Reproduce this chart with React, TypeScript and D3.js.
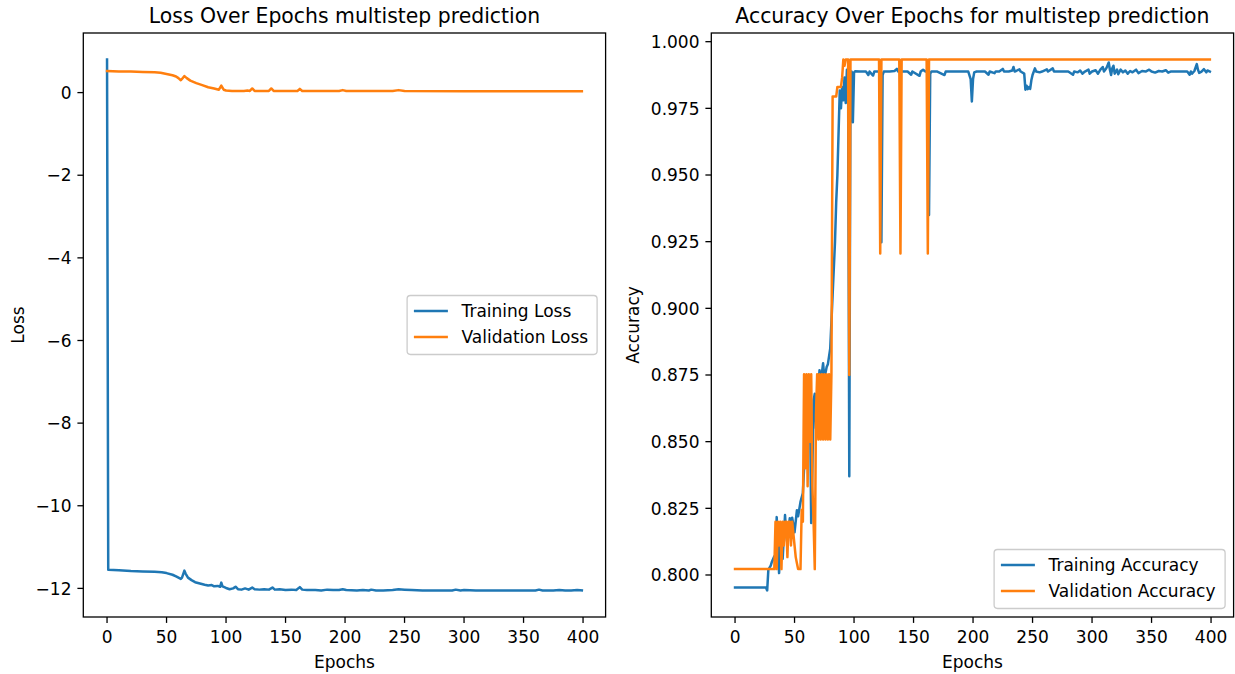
import React from 'react';
import * as d3 from 'd3';

// ---------- data (epoch, value) ----------
const trainLossEpochs = [0, 1, 10, 20, 30, 40, 46, 50, 55, 58, 62, 63, 65, 66, 68, 71, 74, 78, 82, 85, 88, 90, 93, 95, 96, 97, 100, 103, 106, 108, 110, 113, 116, 119, 122, 124, 128, 132, 136, 139, 141, 145, 150, 155, 159, 162, 164, 168, 175, 180, 185, 190, 195, 198, 201, 210, 215, 220, 222, 226, 232, 240, 245, 250, 256, 265, 275, 285, 290, 293, 297, 300, 310, 320, 330, 340, 350, 360, 363, 366, 375, 380, 385, 390, 395, 399];
const trainLossValues = [0.8, -11.55, -11.56, -11.58, -11.59, -11.6, -11.61, -11.63, -11.67, -11.71, -11.77, -11.74, -11.57, -11.64, -11.74, -11.8, -11.85, -11.88, -11.91, -11.93, -11.92, -11.95, -11.94, -11.96, -11.86, -11.95, -11.99, -12.02, -12.0, -11.96, -12.02, -12.03, -12.0, -12.03, -11.98, -12.02, -12.03, -12.02, -12.03, -11.98, -12.03, -12.02, -12.04, -12.03, -12.04, -11.97, -12.03, -12.04, -12.04, -12.05, -12.03, -12.04, -12.04, -12.02, -12.04, -12.05, -12.04, -12.05, -12.03, -12.05, -12.05, -12.04, -12.02, -12.03, -12.04, -12.05, -12.05, -12.05, -12.05, -12.03, -12.05, -12.04, -12.05, -12.05, -12.05, -12.05, -12.05, -12.05, -12.03, -12.05, -12.05, -12.04, -12.05, -12.05, -12.04, -12.05];

const valLossEpochs = [0, 10, 20, 30, 40, 45, 50, 55, 58, 60, 62, 63, 65, 67, 70, 75, 80, 85, 90, 94, 96, 98, 100, 105, 110, 115, 118, 120, 122, 124, 130, 136, 138, 140, 150, 160, 162, 164, 180, 195, 198, 201, 220, 240, 245, 250, 300, 330, 399];
const valLossValues = [0.52, 0.51, 0.51, 0.5, 0.49, 0.48, 0.45, 0.42, 0.39, 0.35, 0.3, 0.33, 0.4, 0.35, 0.29, 0.23, 0.18, 0.13, 0.1, 0.07, 0.17, 0.07, 0.05, 0.04, 0.04, 0.04, 0.05, 0.04, 0.1, 0.04, 0.04, 0.04, 0.1, 0.04, 0.04, 0.04, 0.09, 0.04, 0.04, 0.04, 0.06, 0.04, 0.04, 0.04, 0.06, 0.04, 0.03, 0.03, 0.03];

const trainAccEpochs = [0, 26, 27, 28, 30, 31, 33, 34, 35, 36, 37, 38, 39, 40, 42, 43, 44, 46, 47, 48, 50, 52, 53, 55, 57, 58, 60, 62, 63, 64, 65, 66, 67, 68, 69, 71, 72, 74, 75, 76, 77, 78, 80, 82, 84, 85, 86, 88, 89, 90, 91, 92, 93, 94, 95, 96, 97, 98, 99, 100, 101, 105, 110, 112, 113, 116, 117, 121, 122, 123, 124, 125, 130, 134, 136, 137, 145, 148, 149, 155, 156, 158, 160, 162, 163, 164, 165, 170, 176, 177, 185, 190, 196, 198, 199, 200, 201, 203, 210, 213, 214, 218, 219, 222, 225, 226, 230, 233, 234, 235, 239, 240, 243, 244, 245, 246, 247, 248, 249, 250, 252, 253, 256, 258, 262, 263, 267, 268, 280, 284, 285, 288, 290, 292, 294, 297, 298, 300, 303, 305, 307, 309, 310, 312, 314, 315, 316, 317, 318, 319, 321, 322, 324, 326, 328, 330, 332, 334, 337, 339, 342, 345, 348, 350, 353, 356, 359, 362, 364, 366, 370, 373, 380, 382, 383, 384, 386, 388, 389, 390, 392, 394, 396, 397, 399];
const trainAccValues = [0.7953, 0.7953, 0.7942, 0.802, 0.8035, 0.805, 0.807, 0.804, 0.8217, 0.812, 0.8007, 0.81, 0.813, 0.806, 0.8225, 0.815, 0.812, 0.8213, 0.818, 0.8215, 0.816, 0.8243, 0.822, 0.8274, 0.8307, 0.84, 0.852, 0.861, 0.864, 0.8195, 0.84, 0.8656, 0.868, 0.855, 0.862, 0.8768, 0.872, 0.8794, 0.874, 0.8757, 0.878, 0.879, 0.885, 0.905, 0.925, 0.9398, 0.95, 0.9817, 0.975, 0.983, 0.978, 0.9866, 0.977, 0.9895, 0.9885, 0.837, 0.988, 0.9888, 0.9698, 0.9885, 0.9889, 0.9888, 0.9888, 0.9875, 0.9888, 0.9873, 0.9888, 0.9888, 0.988, 0.9248, 0.9875, 0.9888, 0.9888, 0.989, 0.9898, 0.9888, 0.9888, 0.9876, 0.9888, 0.9872, 0.9888, 0.9895, 0.9888, 0.9888, 0.935, 0.988, 0.9888, 0.9888, 0.9875, 0.9888, 0.9888, 0.9888, 0.9888, 0.986, 0.9776, 0.986, 0.9885, 0.9888, 0.9888, 0.9876, 0.9888, 0.9882, 0.9888, 0.9888, 0.9898, 0.9888, 0.9888, 0.9892, 0.9905, 0.9888, 0.9896, 0.9888, 0.988, 0.982, 0.9835, 0.9822, 0.983, 0.9823, 0.9855, 0.9875, 0.99, 0.9888, 0.9885, 0.9888, 0.9896, 0.9888, 0.99, 0.9888, 0.9888, 0.9876, 0.9888, 0.9885, 0.9892, 0.988, 0.9888, 0.9895, 0.988, 0.9888, 0.9893, 0.988, 0.9895, 0.9905, 0.9888, 0.99, 0.9922, 0.9895, 0.9875, 0.99, 0.991, 0.988, 0.9895, 0.9878, 0.9895, 0.9885, 0.9892, 0.988, 0.989, 0.9885, 0.9895, 0.9882, 0.989, 0.9888, 0.9895, 0.9888, 0.9884, 0.989, 0.9888, 0.9893, 0.9884, 0.9888, 0.9888, 0.9888, 0.9888, 0.9876, 0.9888, 0.988, 0.989, 0.9916, 0.9895, 0.9883, 0.9888, 0.9897, 0.9885, 0.9892, 0.9888];

const valAccEpochs = [0, 33, 34, 35, 36, 37, 38, 39, 40, 41, 42, 43, 44, 45, 46, 47, 48, 49, 50, 51, 52, 53, 54, 55, 56, 57, 58, 59, 60, 61, 62, 63, 64, 65, 66, 67, 68, 69, 70, 71, 72, 73, 74, 75, 76, 77, 78, 79, 80, 81, 82, 85, 86, 89, 90, 91, 92, 93, 95, 96, 97, 121, 122, 123, 138, 139, 140, 161, 162, 163, 399];
const valAccValues = [0.8022, 0.8022, 0.82, 0.8022, 0.82, 0.8111, 0.82, 0.8022, 0.82, 0.8111, 0.82, 0.82, 0.8067, 0.82, 0.82, 0.8111, 0.82, 0.8156, 0.8111, 0.8067, 0.8044, 0.8022, 0.8022, 0.8022, 0.8244, 0.82, 0.8753, 0.84, 0.8753, 0.8333, 0.8753, 0.85, 0.8753, 0.8333, 0.82, 0.8022, 0.86, 0.8753, 0.8508, 0.8753, 0.8508, 0.8753, 0.8508, 0.8753, 0.8508, 0.8753, 0.8508, 0.8753, 0.8508, 0.8753, 0.9794, 0.9794, 0.983, 0.983, 0.9866, 0.9933, 0.991, 0.9933, 0.9933, 0.875, 0.9933, 0.9933, 0.9206, 0.9933, 0.9933, 0.9206, 0.9933, 0.9933, 0.9206, 0.9933, 0.9933];

const xTicks = [0, 50, 100, 150, 200, 250, 300, 350, 400];
const lossTicks = [-12, -10, -8, -6, -4, -2, 0];
const accTicks = [0.8, 0.825, 0.85, 0.875, 0.9, 0.925, 0.95, 0.975, 1.0];

const BLUE = '#1f77b4';
const ORANGE = '#ff7f0e';
const FONT = 'DejaVu Sans, sans-serif';

type Series = { name: string; color: string; epochs: number[]; values: number[] };

function padExtent(vals: number[]): [number, number] {
  const [a, b] = d3.extent(vals) as [number, number];
  const m = (b - a) * 0.05;
  return [a - m, b + m];
}

function Panel(props: {
  x0: number; x1: number; y0: number; y1: number;
  title: string; ylabel: string; series: Series[];
  yTicks: number[]; yFmt: (v: number) => string;
  legend: 'center right' | 'lower right'; ylabelX: number;
}) {
  const { x0, x1, y0, y1, series } = props;
  const allE = series.flatMap(s => s.epochs);
  const allV = series.flatMap(s => s.values);
  const x = d3.scaleLinear().domain(padExtent(allE)).range([x0, x1]);
  const y = d3.scaleLinear().domain(padExtent(allV)).range([y1, y0]);
  const line = d3.line<[number, number]>().x(d => x(d[0])).y(d => y(d[1]));
  const fs = 17;
  const tl = 5.9;
  // legend geometry
  const legW = props.legend === 'center right' ? 190 : 231;
  const legH = 59;
  const legRight = x1 - 8.5;
  const legLeft = legRight - legW;
  const legTop = props.legend === 'center right' ? (y0 + y1) / 2 - legH / 2 : y1 - 8.5 - legH;
  const cx = (x0 + x1) / 2;
  return (
    <g>
      <text x={cx} y={23} textAnchor="middle" fontFamily={FONT} fontSize={20.4} fill="#000">{props.title}</text>
      {series.map(s => (
        <path key={s.name} d={line(s.epochs.map((e, i) => [e, s.values[i]] as [number, number])) || ''}
          fill="none" stroke={s.color} strokeWidth={2.5} strokeLinejoin="round" strokeLinecap="square" />
      ))}
      <rect x={x0} y={y0} width={x1 - x0} height={y1 - y0} fill="none" stroke="#000" strokeWidth={1.3} />
      {xTicks.map(t => (
        <g key={'x' + t}>
          <line x1={x(t)} x2={x(t)} y1={y1} y2={y1 + tl} stroke="#000" strokeWidth={1.3} />
          <text x={x(t)} y={y1 + 25.5} textAnchor="middle" fontFamily={FONT} fontSize={fs} fill="#000">{t}</text>
        </g>
      ))}
      {props.yTicks.map(t => (
        <g key={'y' + t}>
          <line x1={x0 - tl} x2={x0} y1={y(t)} y2={y(t)} stroke="#000" strokeWidth={1.3} />
          <text x={x0 - 2 * tl} y={y(t) + 6.2} textAnchor="end" fontFamily={FONT} fontSize={fs} fill="#000">{props.yFmt(t)}</text>
        </g>
      ))}
      <text x={cx} y={668} textAnchor="middle" fontFamily={FONT} fontSize={fs} fill="#000">Epochs</text>
      <text transform={`translate(${props.ylabelX},${(y0 + y1) / 2}) rotate(-90)`} textAnchor="middle" fontFamily={FONT} fontSize={fs} fill="#000">{props.ylabel}</text>
      <rect x={legLeft} y={legTop} width={legW} height={legH} rx={3.4} fill="#fff" fillOpacity={0.8} stroke="#cccccc" strokeWidth={1.3} />
      {series.map((s, i) => {
        const ly = legTop + 15.5 + i * 26;
        return (
          <g key={'l' + s.name}>
            <line x1={legLeft + 6.8} x2={legLeft + 40.8} y1={ly} y2={ly} stroke={s.color} strokeWidth={2.5} />
            <text x={legLeft + 54.4} y={ly + 6} fontFamily={FONT} fontSize={fs} fill="#000">{s.name}</text>
          </g>
        );
      })}
    </g>
  );
}

export default function App() {
  return (
    <svg width={1235} height={674} style={{ position: 'absolute', left: 0, top: 0, background: '#fff' }}>
      <rect width={1235} height={674} fill="#fff" />
      <Panel x0={83.3} x1={605.6} y0={33} y1={617}
        title="Loss Over Epochs multistep prediction" ylabel="Loss" ylabelX={24}
        series={[
          { name: 'Training Loss', color: BLUE, epochs: trainLossEpochs, values: trainLossValues },
          { name: 'Validation Loss', color: ORANGE, epochs: valLossEpochs, values: valLossValues },
        ]}
        yTicks={lossTicks} yFmt={v => String(v).replace('-', '\u2212')} legend="center right" />
      <Panel x0={711.3} x1={1233.6} y0={33} y1={617}
        title="Accuracy Over Epochs for multistep prediction" ylabel="Accuracy" ylabelX={639}
        series={[
          { name: 'Training Accuracy', color: BLUE, epochs: trainAccEpochs, values: trainAccValues },
          { name: 'Validation Accuracy', color: ORANGE, epochs: valAccEpochs, values: valAccValues },
        ]}
        yTicks={accTicks} yFmt={v => v.toFixed(3)} legend="lower right" />
    </svg>
  );
}
